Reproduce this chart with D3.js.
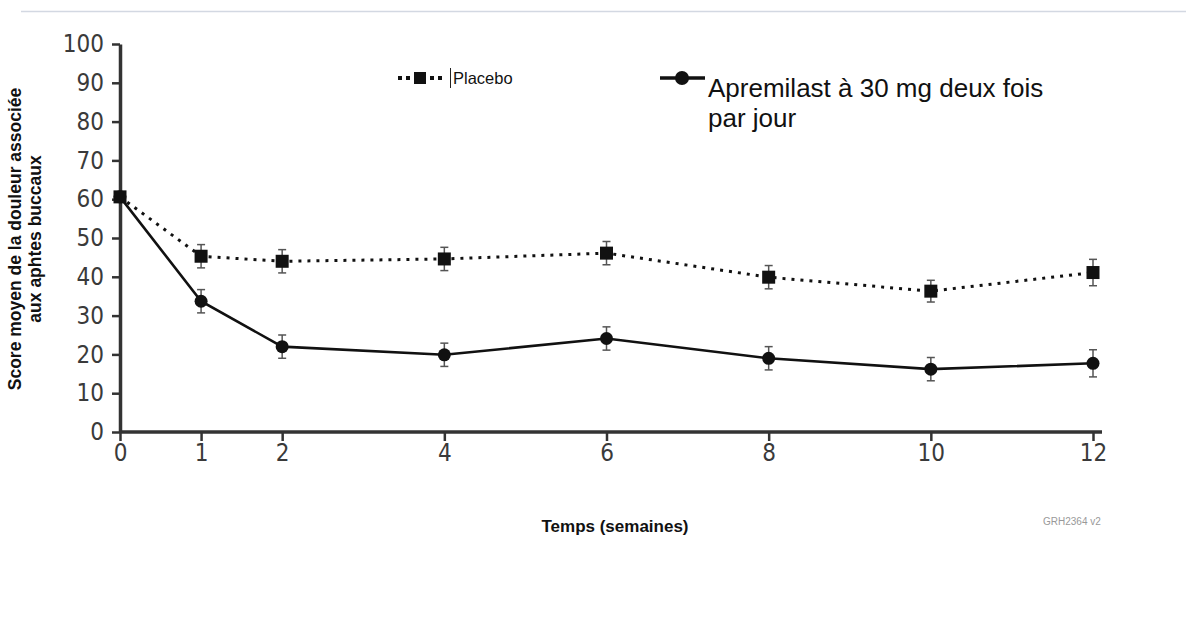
<!DOCTYPE html>
<html>
<head>
<meta charset="utf-8">
<script src="https://cdn.jsdelivr.net/npm/d3@7"></script>
<style>
  body { margin: 0; background: #fff; }
  .tick text { font-family: "Liberation Sans Narrow", "DejaVu Sans Condensed", sans-serif; fill: #3a3a3a; }
</style>
</head>
<body>
<div id="chart"></div>
<script>
// Data
var weeks = [0, 1, 2, 4, 6, 8, 10, 12];
var placebo = [60.6, 45.3, 44.0, 44.6, 46.1, 39.9, 36.3, 41.1];
var placeboErr = [0, 3, 3, 3, 3, 3, 2.8, 3.4];
var apremilast = [60.6, 33.7, 22.0, 19.9, 24.1, 19.0, 16.2, 17.7];
var apremilastErr = [0, 3, 3, 3, 3, 3, 3, 3.5];
var yTicks = [0, 10, 20, 30, 40, 50, 60, 70, 80, 90, 100];

var svgWidth = 1186;
var svgHeight = 643;

var svg = d3.select("#chart")
  .append("svg")
  .attr("width", svgWidth)
  .attr("height", svgHeight);

// thin rule at the top
svg.append("line")
  .attr("x1", 21).attr("x2", svgWidth)
  .attr("y1", 11.5).attr("y2", 11.5)
  .attr("stroke", "#d3d8e2")
  .attr("stroke-width", 1.5);

// Scales
var x = d3.scaleLinear().domain([0, 12]).range([120, 1093]);
var y = d3.scaleLinear().domain([0, 100]).range([432, 44]);

// Axes
var xAxis = svg.append("g")
  .attr("transform", "translate(0,432)")
  .call(d3.axisBottom(x).tickValues(weeks).tickSize(9).tickPadding(3).tickSizeOuter(0));
xAxis.select(".domain").attr("d", "M" + x(0) + ",0H" + (x(12) + 9))
  .attr("stroke", "#333").attr("stroke-width", 3.5);
xAxis.selectAll(".tick line").attr("stroke", "#333").attr("stroke-width", 2.5);
xAxis.selectAll(".tick text").style("font-size", "24px");

var yAxis = svg.append("g")
  .attr("transform", "translate(120,0)")
  .call(d3.axisLeft(y).tickValues(yTicks).tickSize(8).tickPadding(8).tickSizeOuter(0));
yAxis.select(".domain").attr("stroke", "#333").attr("stroke-width", 3.5);
yAxis.selectAll(".tick line").attr("stroke", "#333").attr("stroke-width", 2.5);
yAxis.selectAll(".tick text").style("font-size", "24px");

function drawSeries(values, errs, dashed, marker) {
  var pts = weeks.map(function(w, i) { return { w: w, v: values[i], e: errs[i] }; });
  var line = d3.line().x(d => x(d.w)).y(d => y(d.v));

  svg.append("path")
    .datum(pts)
    .attr("d", line)
    .attr("fill", "none")
    .attr("stroke", "#111")
    .attr("stroke-width", dashed ? 3 : 2.6)
    .attr("stroke-dasharray", dashed ? "3,6" : null);

  // error bars
  var eb = svg.append("g").attr("stroke", "#555").attr("stroke-width", 1.5);
  pts.filter(d => d.e > 0).forEach(function(d) {
    var cx = x(d.w);
    eb.append("line").attr("x1", cx).attr("x2", cx).attr("y1", y(d.v - d.e)).attr("y2", y(d.v + d.e));
    eb.append("line").attr("x1", cx - 4).attr("x2", cx + 4).attr("y1", y(d.v - d.e)).attr("y2", y(d.v - d.e));
    eb.append("line").attr("x1", cx - 4).attr("x2", cx + 4).attr("y1", y(d.v + d.e)).attr("y2", y(d.v + d.e));
  });

  if (marker === "square") {
    svg.selectAll(null).data(pts).enter().append("rect")
      .attr("x", d => x(d.w) - 6.5).attr("y", d => y(d.v) - 6.5)
      .attr("width", 13).attr("height", 13)
      .attr("fill", "#111");
  } else {
    svg.selectAll(null).data(pts).enter().append("circle")
      .attr("cx", d => x(d.w)).attr("cy", d => y(d.v))
      .attr("r", 6.5)
      .attr("fill", "#111");
  }
}

drawSeries(apremilast, apremilastErr, false, "circle");
drawSeries(placebo, placeboErr, true, "square");

// Legend
var leg = svg.append("g");
leg.append("line").attr("x1", 398).attr("x2", 442).attr("y1", 78).attr("y2", 78)
  .attr("stroke", "#111").attr("stroke-width", 4).attr("stroke-dasharray", "4,4");
leg.append("rect").attr("x", 414).attr("y", 72).attr("width", 12).attr("height", 12).attr("fill", "#111");
leg.append("line").attr("x1", 450.5).attr("x2", 450.5).attr("y1", 68).attr("y2", 88)
  .attr("stroke", "#222").attr("stroke-width", 1);
leg.append("text").attr("x", 453).attr("y", 84)
  .style("font-family", "Arial, 'Liberation Sans', sans-serif").style("font-size", "16.5px")
  .attr("fill", "#111").text("Placebo");

leg.append("line").attr("x1", 660).attr("x2", 705).attr("y1", 78).attr("y2", 78)
  .attr("stroke", "#111").attr("stroke-width", 3.5);
leg.append("circle").attr("cx", 682).attr("cy", 78).attr("r", 7).attr("fill", "#111");
var lt = leg.append("text")
  .style("font-family", "Arial, 'Liberation Sans', sans-serif").style("font-size", "26px")
  .attr("fill", "#111");
lt.append("tspan").attr("x", 708).attr("y", 97).text("Apremilast à 30 mg deux fois");
lt.append("tspan").attr("x", 708).attr("y", 127).text("par jour");

// Axis titles
var yt = svg.append("text")
  .attr("transform", "translate(0,239) rotate(-90)")
  .attr("text-anchor", "middle")
  .style("font-family", "Arial, 'Liberation Sans', sans-serif")
  .style("font-size", "17.5px").style("font-weight", "bold")
  .attr("fill", "#111");
yt.append("tspan").attr("x", 0).attr("y", 21).text("Score moyen de la douleur associée");
yt.append("tspan").attr("x", 0).attr("y", 41).text("aux aphtes buccaux");

svg.append("text")
  .attr("x", 615).attr("y", 532)
  .attr("text-anchor", "middle")
  .style("font-family", "Arial, 'Liberation Sans', sans-serif")
  .style("font-size", "17px").style("font-weight", "bold")
  .attr("fill", "#111")
  .text("Temps (semaines)");

svg.append("text")
  .attr("x", 1043).attr("y", 525)
  .style("font-family", "Arial, 'Liberation Sans', sans-serif")
  .style("font-size", "10px")
  .attr("fill", "#999")
  .text("GRH2364 v2");
</script>
</body>
</html>
